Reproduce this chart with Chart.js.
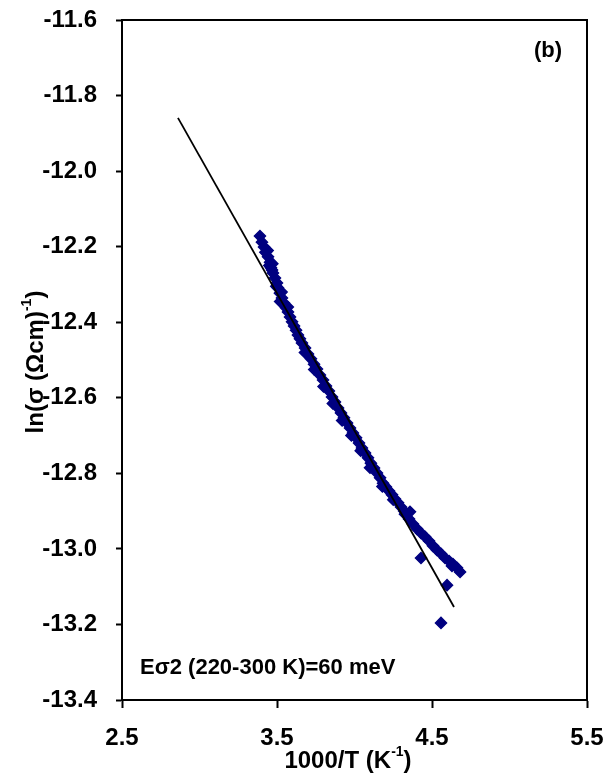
<!DOCTYPE html>
<html>
<head>
<meta charset="utf-8">
<script src="https://cdn.jsdelivr.net/npm/chart.js@4/dist/chart.umd.min.js"></script>
<style>
  html, body { margin: 0; padding: 0; background: #fff; }
  #c { display: block; }
</style>
</head>
<body>
<canvas id="c" width="608" height="778"></canvas>
<script>
// measured points: 1000/T (K^-1) and ln(sigma)
const invT = [3.390, 3.403, 3.416, 3.429, 3.442, 3.455, 3.461, 3.474, 3.487, 3.500,
  3.506, 3.519, 3.532, 3.545, 3.558, 3.571, 3.584, 3.597, 3.610, 3.623,
  3.635, 3.648, 3.661, 3.681, 3.700, 3.719, 3.739, 3.758, 3.777, 3.797,
  3.816, 3.835, 3.855, 3.874, 3.894, 3.913, 3.932, 3.952, 3.971, 3.990,
  4.010, 4.029, 4.048, 4.068, 4.087, 4.106, 4.126, 4.145, 4.165, 4.184,
  4.203, 4.223, 4.242, 4.261, 4.281, 4.300, 4.358, 4.326, 4.352, 4.377,
  4.403, 4.429, 4.455, 4.481, 4.429, 4.506, 4.532, 4.558, 4.584, 4.610,
  4.635, 4.661, 4.681, 4.629, 4.597, 4.558,
  3.425, 3.450, 3.468, 3.495, 3.520,
  3.440, 3.470, 3.530, 3.570, 3.680, 3.740, 3.800, 3.860, 3.920, 3.980,
  4.040, 4.100, 4.180, 4.250, 4.320];
const lnSigma = [-12.172, -12.188, -12.201, -12.214, -12.227, -12.241, -12.256, -12.270, -12.283, -12.296,
  -12.309, -12.323, -12.336, -12.349, -12.362, -12.373, -12.386, -12.399, -12.410, -12.421,
  -12.434, -12.444, -12.455, -12.468, -12.484, -12.497, -12.511, -12.524, -12.540, -12.553,
  -12.569, -12.582, -12.598, -12.611, -12.627, -12.640, -12.653, -12.667, -12.680, -12.693,
  -12.706, -12.720, -12.733, -12.746, -12.759, -12.773, -12.786, -12.799, -12.812, -12.826,
  -12.836, -12.847, -12.857, -12.868, -12.878, -12.889, -12.902, -12.908, -12.921, -12.934,
  -12.947, -12.958, -12.968, -12.979, -13.024, -12.992, -13.003, -13.013, -13.024, -13.032,
  -13.040, -13.050, -13.061, -13.045, -13.096, -13.196,
  -12.215, -12.250, -12.262, -12.305, -12.345,
  -12.210, -12.245, -12.320, -12.360, -12.480, -12.525, -12.570, -12.615, -12.660, -12.700,
  -12.740, -12.785, -12.835, -12.870, -12.900];

// linear fit (Arrhenius line)
const fitX = [2.861, 4.642];
const fitY = [-11.859, -13.154];

const xTicks = [2.5, 3.5, 4.5, 5.5];
const yTicks = [-11.6, -11.8, -12.0, -12.2, -12.4, -12.6, -12.8, -13.0, -13.2, -13.4];

const FONT = '"Liberation Sans", Arial, sans-serif';

const decor = {
  id: 'decor',
  afterDraw(chart) {
    const { ctx, chartArea: a } = chart;
    ctx.save();
    ctx.strokeStyle = '#000';
    ctx.lineWidth = 2;
    ctx.strokeRect(a.left, a.top, a.right - a.left, a.bottom - a.top);

    ctx.fillStyle = '#000';
    ctx.textBaseline = 'alphabetic';
    ctx.font = 'bold 22px ' + FONT;
    ctx.textAlign = 'right';
    ctx.fillText('(b)', a.right - 25, a.top + 37);
    ctx.textAlign = 'left';
    ctx.fillText('E\u03c32 (220-300 K)=60 meV', a.left + 18, a.bottom - 26);

    // axis titles with superscript
    const drawSup = (parts, x, y) => {
      let cx = x;
      parts.forEach(p => {
        ctx.font = (p.sup ? 'bold 14px ' : 'bold 24px ') + FONT;
        ctx.fillText(p.t, cx, p.sup ? y - 12 : y);
        cx += ctx.measureText(p.t).width;
      });
    };
    const measure = parts => parts.reduce((w, p) => {
      ctx.font = (p.sup ? 'bold 14px ' : 'bold 24px ') + FONT;
      return w + ctx.measureText(p.t).width;
    }, 0);

    const xt = [{ t: '1000/T (K' }, { t: '-1', sup: true }, { t: ')' }];
    ctx.textAlign = 'left';
    drawSup(xt, 348 - measure(xt) / 2, 768);

    const yt = [{ t: 'ln(\u03c3 (\u03a9cm)' }, { t: '-1', sup: true }, { t: ')' }];
    ctx.translate(43, 362);
    ctx.rotate(-Math.PI / 2);
    drawSup(yt, -measure(yt) / 2, 0);
    ctx.restore();
  }
};

const tickFont = { family: FONT, size: 24, weight: 'bold' };

new Chart(document.getElementById('c'), {
  type: 'scatter',
  data: {
    datasets: [
      {
        data: fitX.map((x, i) => ({ x, y: fitY[i] })),
        showLine: true,
        borderColor: '#000',
        borderWidth: 1.8,
        pointRadius: 0,
        order: 0
      },
      {
        data: invT.map((x, i) => ({ x, y: lnSigma[i] })),
        pointStyle: 'rectRot',
        pointRadius: 5.5,
        pointBorderWidth: 1.5,
        backgroundColor: '#000080',
        borderColor: '#000080',
        order: 1
      }
    ]
  },
  options: {
    responsive: false,
    animation: false,
    devicePixelRatio: 1,
    layout: { padding: { top: 20, right: 21, left: 0, bottom: 0 } },
    plugins: { legend: { display: false }, tooltip: { enabled: false } },
    scales: {
      x: {
        type: 'linear',
        min: 2.5,
        max: 5.5,
        afterBuildTicks: s => { s.ticks = xTicks.map(v => ({ value: v })); },
        afterFit: s => { s.height = 78; s.paddingLeft = 0; s.paddingRight = 0; },
        ticks: { callback: v => v.toFixed(1), font: tickFont, color: '#000', padding: 16, maxRotation: 0, autoSkip: false },
        grid: { drawOnChartArea: false, tickLength: 8, color: '#000', tickWidth: 2 },
        border: { color: '#000', width: 2 }
      },
      y: {
        type: 'linear',
        min: -13.4,
        max: -11.6,
        afterBuildTicks: s => { s.ticks = yTicks.map(v => ({ value: v })); },
        afterFit: s => { s.width = 122; s.paddingTop = 0; s.paddingBottom = 0; },
        ticks: { callback: v => v.toFixed(1), font: tickFont, color: '#000', padding: 19, autoSkip: false },
        grid: { drawOnChartArea: false, tickLength: 6, color: '#000', tickWidth: 2 },
        border: { color: '#000', width: 2 }
      }
    }
  },
  plugins: [decor]
});
</script>
</body>
</html>
